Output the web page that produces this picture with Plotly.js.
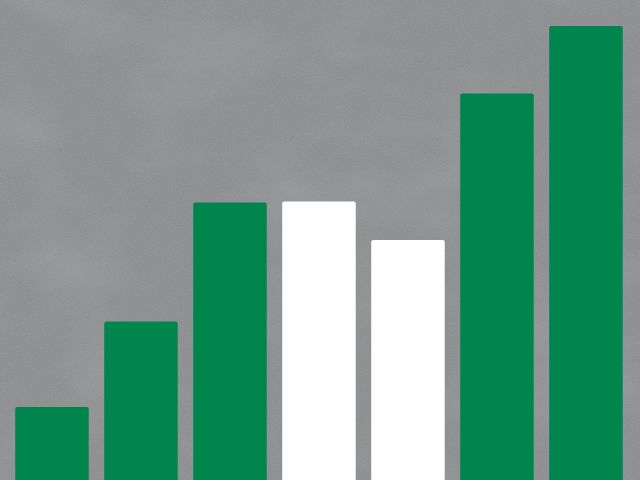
<!DOCTYPE html>
<html>
<head>
<meta charset="utf-8">
<script src="https://cdn.plot.ly/plotly-3.0.1.min.js"></script>
<style>
html, body { margin: 0; padding: 0; }
body {
	width: 640px; height: 480px; overflow: hidden;
	background-color: #8f9092;
	background-image: url("data:image/svg+xml;utf8,<svg xmlns='http://www.w3.org/2000/svg' width='640' height='480'><filter id='g'><feTurbulence type='fractalNoise' baseFrequency='0.9' numOctaves='2' seed='3'/><feColorMatrix type='matrix' values='0 0 0 0 0.5  0 0 0 0 0.5  0 0 0 0 0.51  0 0 0 1.4 -0.6'/></filter><filter id='n'><feTurbulence type='fractalNoise' baseFrequency='0.008 0.012' numOctaves='4' seed='7'/><feColorMatrix type='matrix' values='0 0 0 0 0.62  0 0 0 0 0.62  0 0 0 0 0.63  0 0 0 1.1 -0.5'/></filter><rect width='640' height='480' fill='%238e8f91'/><rect width='640' height='480' filter='url(%23n)' opacity='0.35'/><rect width='640' height='480' filter='url(%23g)' opacity='0.35'/></svg>");
}
#myChart { width: 640px; height: 480px; }
</style>
</head>
<body>
<div id="myChart"></div>
<script>
// seven bars, no labels in the picture
const categorias = ['A', 'B', 'C', 'D', 'E', 'F', 'G'];
const valores = [15.2, 33, 57.8, 58, 50, 80.5, 94.6];
const cores = ['#00854f', '#00854f', '#00854f', '#ffffff', '#ffffff', '#00854f', '#00854f'];

function gerarGrafico(){
	var trace = {
		x: categorias,
		y: valores,
		type: 'bar',
		marker: {color: cores, line: {width: 0}, cornerradius: 2},
		hoverinfo: 'none'
	};

	var layout = {
		width: 640,
		height: 480,
		margin: {l: 0, r: 0, b: 0, t: 0, pad: 0},
		paper_bgcolor: 'rgba(0,0,0,0)',
		plot_bgcolor: 'rgba(0,0,0,0)',
		bargap: 0.174,
		showlegend: false,
		xaxis: {type: 'category', range: [-0.584, 6.607], visible: false, fixedrange: true},
		yaxis: {range: [0, 100], visible: false, fixedrange: true}
	};

	Plotly.newPlot('myChart', [trace], layout, {displayModeBar: false, staticPlot: true});
}

gerarGrafico();
</script>
</body>
</html>
